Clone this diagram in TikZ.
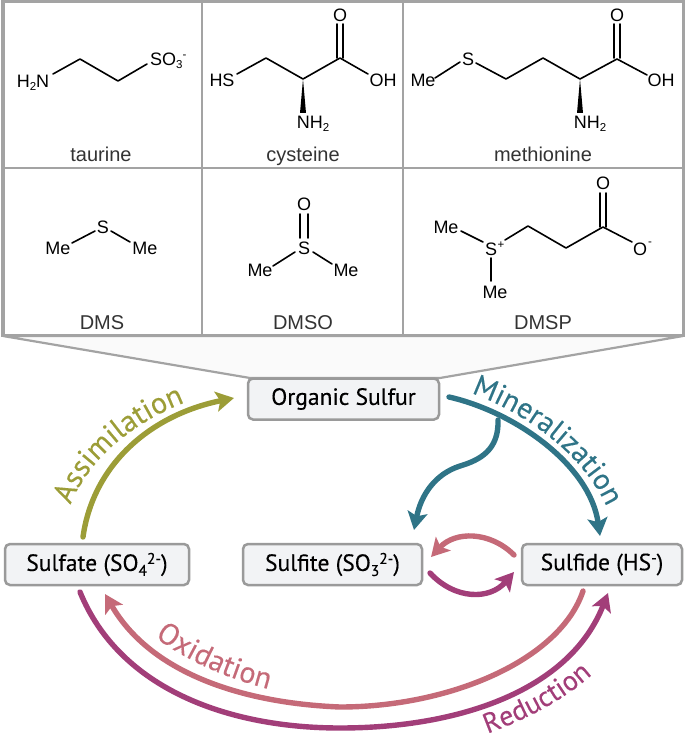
\documentclass[tikz,border=0pt]{standalone}
\usepackage{fontspec}
\setmainfont{PT Sans}
\newfontfamily\medf[FakeBold=0.25]{PT Sans}
\newfontfamily\chemf{Liberation Sans}
\usetikzlibrary{arrows.meta,decorations.text,calc}
\definecolor{frameC}{HTML}{A3A3A3}
\definecolor{boxF}{HTML}{F2F3F5}
\definecolor{boxD}{HTML}{9A9A9A}
\definecolor{olive}{HTML}{9C9D37}
\definecolor{teal2}{HTML}{2F7487}
\definecolor{pinkC}{HTML}{C56A78}
\definecolor{purp}{HTML}{A23E79}
\newcommand{\lblfont}[1]{\medf\fontsize{#1}{30}\selectfont}
\newcommand{\boxfont}{\medf\fontsize{23.5}{26}\selectfont}
\newcommand{\subsupA}[2]{\raisebox{-5pt}{\fontsize{15.5}{16}\selectfont #1}\raisebox{7pt}{\fontsize{15.5}{16}\selectfont #2}}
\tikzset{
  every picture/.style={x=1pt,y=-1pt},
  procbox/.style={draw=boxD,fill=boxF,line width=2.5pt,rounded corners=5pt,minimum height=41pt,inner sep=0pt,outer sep=0pt,font=\boxfont,text=black},
  atom/.style={inner sep=0pt,font=\chemf\fontsize{18}{20}\selectfont,text=black},
  molcap/.style={inner sep=0pt,anchor=base,font=\chemf\fontsize{20}{22}\selectfont,text=black!80},
  bond/.style={line width=1.6pt,line cap=round,line join=round,draw=black},
  wedgeb/.style={fill=black,draw=none},
  proc/.style={line width=5.4pt,line cap=round,-{Stealth[length=18pt,width=20pt,inset=4pt]}},
  flabel/.style={decorate,decoration={text along path,text align={center},text color=#1}},
}
\begin{document}
\begin{tikzpicture}
\useasboundingbox (0,0) rectangle (685,738);
% trapezoid
\path[fill=black!2,draw=frameC,line width=2.2pt] (3,336) -- (250,378) -- (440,378) -- (683,336) -- cycle;
% grid
\fill[white] (2,1) rectangle (683,335);
\draw[frameC,line width=2pt] (2,168) -- (683,168) (202,1) -- (202,335) (403,1) -- (403,335);
\draw[frameC,line width=3pt] (2.5,1.5) rectangle (683,335);
\draw[frameC,line width=1.5pt] (4,1) -- (4,335);
% --- taurine
\node[atom] (tN) at (33,83) {H\raisebox{-3pt}{\fontsize{11.5}{12}\selectfont 2}N};
\node[atom,anchor=base west] (tS) at (150,66) {SO\raisebox{-3pt}{\fontsize{11.5}{12}\selectfont 3}\raisebox{7pt}{\fontsize{11.5}{12}\selectfont -}};
\draw[bond] (53,74) -- (80,59) -- (118,81) -- (147,64);
\node[molcap] (tcap) at (101,162) {taurine};
% --- cysteine
\node[atom] (cS) at (222,80) {HS};
\node[atom] (cO) at (340,15) {O};
\node[atom] (cOH) at (383,80) {OH};
\node[atom] (cN) at (313,124) {NH\raisebox{-3pt}{\fontsize{11.5}{12}\selectfont 2}};
\draw[bond] (237,74) -- (266,58) -- (303,79) -- (340,58) -- (368,74);
\draw[bond] (337,24) -- (337,58) (343,24) -- (343,58);
\fill[wedgeb] (303,79) -- (300,113) -- (306,113) -- cycle;
\node[molcap] (ccap) at (303,162) {cysteine};
% --- methionine
\node[atom] (mMe) at (423,80) {Me};
\node[atom] (mS) at (468,59) {S};
\node[atom] (mO) at (617,15) {O};
\node[atom] (mOH) at (661,80) {OH};
\node[atom] (mN) at (590,124) {NH\raisebox{-3pt}{\fontsize{11.5}{12}\selectfont 2}};
\draw[bond] (435,78) -- (460,62);
\draw[bond] (476,63) -- (506,79) -- (543,58) -- (580,79) -- (617,59) -- (647,75);
\draw[bond] (614,24) -- (614,58) (620,24) -- (620,58);
\fill[wedgeb] (580,79) -- (577,113) -- (583,113) -- cycle;
\node[molcap] (mcap) at (543,162) {methionine};
% --- DMS
\node[atom] (dMe1) at (58,248) {Me};
\node[atom] (dS) at (103,227) {S};
\node[atom] (dMe2) at (145,248) {Me};
\draw[bond] (72,243) -- (95,231) (111,231) -- (130,242);
\node[molcap] (dcap) at (102,329) {DMS};
% --- DMSO
\node[atom] (oO) at (304,204) {O};
\node[atom] (oS) at (304,248) {S};
\node[atom] (oMe1) at (260,270) {Me};
\node[atom] (oMe2) at (346,270) {Me};
\draw[bond] (300,214) -- (300,238) (308,214) -- (308,238);
\draw[bond] (295,252) -- (273,266) (313,252) -- (332,264);
\node[molcap] (ocap) at (303,329) {DMSO};
% --- DMSP
\node[atom] (pMe1) at (446,227) {Me};
\node[atom] (pS) at (491,249) {S};
\node[atom] (pPlus) at (501,245) {\fontsize{11.5}{12}\selectfont +};
\node[atom] (pMe2) at (495,292) {Me};
\node[atom] (pO) at (603,183) {O};
\node[atom] (pOm) at (640,249) {O};
\node[atom] (pMin) at (650,244) {\fontsize{11.5}{12}\selectfont -};
\draw[bond] (461,231) -- (483,242);
\draw[bond] (505,240) -- (528,226) -- (566,248) -- (603,227) -- (632,242);
\draw[bond] (600,193) -- (600,227) (606,193) -- (606,227);
\draw[bond] (491,258) -- (491,281);
\node[molcap] (pcap) at (543,329) {DMSP};
% --- process boxes
\node[procbox,minimum width=191pt] (organic) at (343.5,399) {Organic Sulfur};
\node[procbox,minimum width=184pt] (sulfate) at (97,564.5) {Sulfate (SO\subsupA{4}{2-})};
\node[procbox,minimum width=179pt] (sulfite) at (332.5,564.5) {Sulfite (SO\subsupA{3}{2-})};
\node[procbox,minimum width=160pt] (sulfide) at (602,564.5) {Sulfide (HS\raisebox{7pt}{\fontsize{15.5}{16}\selectfont -})};
% --- arrows
\draw[proc,olive] ([shift={(-14,-7)}]sulfate.north) .. controls (93,465) and (150,415) .. ([shift={(-14,-1)}]organic.west);
\draw[proc,teal2] ([shift={(10,-2)}]organic.east) .. controls (515,412) and (590,465) .. ([shift={(-2,-8)}]sulfide.north);
\coordinate (branch) at (498,420);
\draw[proc,teal2] (branch) .. controls (499,450) and (480,460) .. (460,466) .. controls (435,474) and (421,495) .. ([shift={(-8,-14)}]sulfite.north east);
\draw[proc,pinkC] ([shift={(-8,-9.5)}]sulfide.west) .. controls (490,531) and (455,531) .. ([shift={(9,-7.5)}]sulfite.east);
\draw[proc,purp] ([shift={(8,8.5)}]sulfite.east) .. controls (455,600) and (490,600) .. ([shift={(-8,7.5)}]sulfide.west);
\draw[proc,pinkC] ([shift={(-19,6)}]sulfide.south) .. controls (560,660) and (450,707) .. (340,707) .. controls (240,703) and (150,672) .. ([shift={(8,9)}]sulfate.south);
\draw[proc,purp] ([shift={(-17,7)}]sulfate.south) .. controls (120,690) and (230,728) .. (340,728) .. controls (460,728) and (570,690) .. ([shift={(6,8)}]sulfide.south);
% --- curved labels
\path[flabel=olive,decoration={text={|\lblfont{30}|Assimilation}}] (68,512) .. controls (85,460) and (135,420) .. (192,400);
\path[flabel=teal2,decoration={text={|\lblfont{29.5}|Mineralization}}] (468,392) .. controls (525,412) and (585,455) .. (608,510);
\path[flabel=pinkC,decoration={text={|\lblfont{30}|Oxidation}}] (152,635) .. controls (185,660) and (225,678) .. (272,690);
\path[flabel=purp,decoration={text={|\lblfont{28}|Reduction}}] (484,735) .. controls (525,720) and (565,700) .. (595,672);
\end{tikzpicture}
\end{document}
